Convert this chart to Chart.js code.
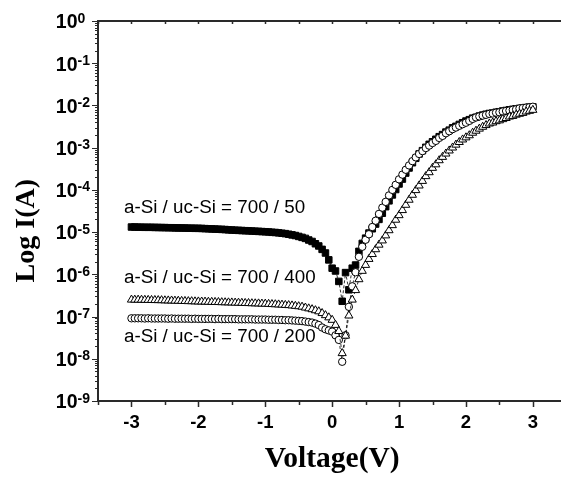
<!DOCTYPE html>
<html><head><meta charset="utf-8">
<script src="https://cdn.jsdelivr.net/npm/chart.js@4.4.1/dist/chart.umd.min.js"></script>
<style>
html,body{margin:0;padding:0;background:#fff;overflow:hidden;width:561px;height:478px}
#wrap{position:absolute;left:0;top:0;width:572px;height:478px}
</style>
</head><body><div id="wrap"><canvas id="c" width="572" height="478"></canvas></div>
<script>
const voltage = [-3,-2.95,-2.9,-2.85,-2.8,-2.75,-2.7,-2.65,-2.6,-2.55,-2.5,-2.45,-2.4,-2.35,-2.3,-2.25,-2.2,-2.15,-2.1,-2.05,-2,-1.95,-1.9,-1.85,-1.8,-1.75,-1.7,-1.65,-1.6,-1.55,-1.5,-1.45,-1.4,-1.35,-1.3,-1.25,-1.2,-1.15,-1.1,-1.05,-1,-0.95,-0.9,-0.85,-0.8,-0.75,-0.7,-0.65,-0.6,-0.55,-0.5,-0.45,-0.4,-0.35,-0.3,-0.25,-0.2,-0.15,-0.1,-0.05,0,0.05,0.1,0.15,0.2,0.25,0.3,0.35,0.4,0.45,0.5,0.55,0.6,0.65,0.7,0.75,0.8,0.85,0.9,0.95,1,1.05,1.1,1.15,1.2,1.25,1.3,1.35,1.4,1.45,1.5,1.55,1.6,1.65,1.7,1.75,1.8,1.85,1.9,1.95,2,2.05,2.1,2.15,2.2,2.25,2.3,2.35,2.4,2.45,2.5,2.55,2.6,2.65,2.7,2.75,2.8,2.85,2.9,2.95,3];

// a-Si / uc-Si = 700 / 50  (filled squares)
const current50 = [
1.32e-5,1.32e-5,1.31e-5,1.31e-5,1.30e-5,1.30e-5,1.30e-5,1.29e-5,1.29e-5,1.28e-5,
1.28e-5,1.27e-5,1.27e-5,1.26e-5,1.26e-5,1.25e-5,1.25e-5,1.24e-5,1.24e-5,1.23e-5,
1.23e-5,1.22e-5,1.21e-5,1.20e-5,1.19e-5,1.18e-5,1.17e-5,1.16e-5,1.15e-5,1.13e-5,
1.12e-5,1.11e-5,1.10e-5,1.09e-5,1.08e-5,1.07e-5,1.06e-5,1.05e-5,1.04e-5,1.03e-5,
1.02e-5,1.01e-5,9.9e-6,9.8e-6,9.6e-6,9.4e-6,9.2e-6,8.9e-6,8.6e-6,8.3e-6,
7.9e-6,7.5e-6,7.1e-6,6.5e-6,6.0e-6,5.3e-6,4.7e-6,3.9e-6,3.2e-6,2.2e-6,
1.4e-6,
1.2e-6,6.8e-7,2.3e-7,1.1e-6,4.3e-7,1.4e-6,1.66e-6,3.5e-6,5.4e-6,7.2e-6,
9.5e-6,1.2e-5,1.55e-5,2.0e-5,2.8e-5,4.0e-5,5.5e-5,7.6e-5,1.02e-4,1.38e-4,
1.8e-4,2.5e-4,3.3e-4,4.4e-4,5.6e-4,7.1e-4,8.5e-4,1.02e-3,1.2e-3,1.38e-3,
1.58e-3,1.82e-3,2.04e-3,2.34e-3,2.6e-3,2.95e-3,3.2e-3,3.55e-3,3.9e-3,4.27e-3,
4.6e-3,5.0e-3,5.25e-3,5.6e-3,5.9e-3,6.2e-3,6.45e-3,6.6e-3,6.9e-3,7.1e-3,
7.4e-3,7.6e-3,7.9e-3,8.1e-3,8.3e-3,8.5e-3,8.7e-3,8.9e-3,9.1e-3,9.3e-3];

// a-Si / uc-Si = 700 / 200  (open circles)
const current200 = [
9.1e-8,9.1e-8,9.1e-8,9.1e-8,9.0e-8,9.1e-8,9.0e-8,9.0e-8,9.0e-8,9.0e-8,
9.0e-8,8.9e-8,9.0e-8,8.9e-8,8.9e-8,8.9e-8,8.9e-8,8.9e-8,8.8e-8,8.9e-8,
8.8e-8,8.8e-8,8.8e-8,8.8e-8,8.8e-8,8.7e-8,8.8e-8,8.7e-8,8.7e-8,8.7e-8,
8.7e-8,8.7e-8,8.6e-8,8.6e-8,8.6e-8,8.6e-8,8.6e-8,8.5e-8,8.5e-8,8.5e-8,
8.5e-8,8.4e-8,8.4e-8,8.4e-8,8.3e-8,8.3e-8,8.2e-8,8.2e-8,8.1e-8,8.0e-8,
7.9e-8,7.8e-8,7.6e-8,7.4e-8,7.2e-8,6.8e-8,6.3e-8,5.5e-8,5.0e-8,4.7e-8,
4.4e-8,
3.6e-8,2.8e-8,8.5e-9,3.6e-8,1.7e-7,5.2e-7,1.12e-6,2.6e-6,4.5e-6,6.6e-6,
8.9e-6,1.32e-5,1.86e-5,2.7e-5,3.8e-5,5.2e-5,7.4e-5,1.0e-4,1.32e-4,1.78e-4,
2.3e-4,3.0e-4,3.8e-4,4.8e-4,5.9e-4,7.1e-4,8.3e-4,9.8e-4,1.12e-3,1.29e-3,
1.45e-3,1.7e-3,1.9e-3,2.2e-3,2.45e-3,2.75e-3,3.0e-3,3.3e-3,3.6e-3,3.9e-3,
4.3e-3,4.8e-3,5.2e-3,5.5e-3,5.75e-3,6.0e-3,6.3e-3,6.45e-3,6.75e-3,6.9e-3,
7.2e-3,7.4e-3,7.6e-3,7.9e-3,8.1e-3,8.5e-3,8.7e-3,8.9e-3,9.1e-3,9.3e-3];

// a-Si / uc-Si = 700 / 400  (open triangles)
const current400 = [
2.50e-7,2.49e-7,2.49e-7,2.48e-7,2.47e-7,2.46e-7,2.45e-7,2.44e-7,2.43e-7,2.42e-7,
2.40e-7,2.39e-7,2.38e-7,2.36e-7,2.35e-7,2.33e-7,2.32e-7,2.30e-7,2.29e-7,2.27e-7,
2.26e-7,2.25e-7,2.24e-7,2.22e-7,2.21e-7,2.20e-7,2.19e-7,2.17e-7,2.16e-7,2.15e-7,
2.14e-7,2.12e-7,2.11e-7,2.10e-7,2.08e-7,2.07e-7,2.05e-7,2.04e-7,2.03e-7,2.01e-7,
2.00e-7,1.98e-7,1.96e-7,1.94e-7,1.92e-7,1.90e-7,1.87e-7,1.85e-7,1.82e-7,1.78e-7,
1.74e-7,1.70e-7,1.62e-7,1.55e-7,1.48e-7,1.40e-7,1.32e-7,1.20e-7,1.07e-7,9.5e-8,
8.3e-8,
6.3e-8,4.5e-8,1.35e-8,3.5e-8,1.05e-7,2.5e-7,4.2e-7,7.6e-7,1.2e-6,1.66e-6,
2.3e-6,3.0e-6,3.9e-6,5.0e-6,6.3e-6,8.3e-6,1.1e-5,1.45e-5,1.95e-5,2.5e-5,
3.3e-5,4.4e-5,5.8e-5,7.6e-5,9.8e-5,1.26e-4,1.62e-4,2.1e-4,2.6e-4,3.3e-4,
4.0e-4,5.0e-4,6.0e-4,7.2e-4,8.5e-4,1.0e-3,1.17e-3,1.35e-3,1.55e-3,1.74e-3,
1.95e-3,2.24e-3,2.5e-3,2.8e-3,3.1e-3,3.4e-3,3.7e-3,3.9e-3,4.2e-3,4.4e-3,
4.7e-3,5.0e-3,5.4e-3,5.6e-3,6.0e-3,6.3e-3,6.6e-3,7.1e-3,7.4e-3,7.8e-3];

const seriesNames = ['a-Si / uc-Si = 700 / 50', 'a-Si / uc-Si = 700 / 400', 'a-Si / uc-Si = 700 / 200'];
const xTickValues = [-3,-2,-1,0,1,2,3];
const xTickLabels = ['-3','-2','-1','0','1','2','3'];
const yTickValues = [1e-9,1e-8,1e-7,1e-6,1e-5,1e-4,1e-3,1e-2,1e-1,1];
const yTickBase = '10';
const yTickExponents = ['-9','-8','-7','-6','-5','-4','-3','-2','-1','0'];
const xTitle = 'Voltage(V)';
const yTitle = 'Log I(A)';

const toPoints = arr => voltage.map((v, i) => ({x: v, y: arr[i]}));

const frame = {
  id: 'frame',
  afterDatasetsDraw(chart) {
    const {ctx, chartArea: {left, right, top, bottom}, scales: {x, y}} = chart;
    ctx.save();
    ctx.strokeStyle = '#2a2a2a';
    ctx.lineWidth = 2;
    ctx.beginPath();
    ctx.moveTo(left, top); ctx.lineTo(left, bottom + 1);
    ctx.moveTo(left - 1, bottom); ctx.lineTo(right, bottom);
    ctx.moveTo(left - 1, top); ctx.lineTo(right, top);
    ctx.moveTo(right, top); ctx.lineTo(right, bottom);
    ctx.stroke();
    ctx.lineWidth = 1.5;
    ctx.beginPath();
    for (let k = -7; k <= 7; k++) {
      const px = Math.round(x.getPixelForValue(k / 2)) + 0.5;
      const major = k % 2 === 0;
      ctx.moveTo(px, bottom); ctx.lineTo(px, bottom + (major ? 6 : 4));
      ctx.moveTo(px, top); ctx.lineTo(px, top + 3);
    }
    ctx.stroke();
    ctx.lineWidth = 1;
    ctx.beginPath();
    for (let e = -9; e <= 0; e++) {
      const py = Math.round(y.getPixelForValue(Math.pow(10, e))) + 0.5;
      ctx.moveTo(left, py); ctx.lineTo(left - 6, py);
      if (e < 0) {
        for (let m = 2; m <= 9; m++) {
          const pm = Math.round(y.getPixelForValue(m * Math.pow(10, e))) + 0.5;
          ctx.moveTo(left, pm); ctx.lineTo(left - 3, pm);
        }
      }
    }
    ctx.stroke();
    ctx.restore();
  },
  afterDraw(chart) {
    const {ctx, scales: {y}} = chart;
    ctx.save();
    ctx.fillStyle = '#000';
    // y tick labels: 10 with raised exponent
    yTickValues.forEach((v, i) => {
      const py = y.getPixelForValue(v);
      ctx.font = 'bold 19.5px "Liberation Sans", Arial, sans-serif';
      ctx.textAlign = 'right';
      ctx.textBaseline = 'middle';
      ctx.fillText(yTickBase, 77.5, py + 2);
      ctx.font = 'bold 14px "Liberation Sans", Arial, sans-serif';
      ctx.textAlign = 'left';
      ctx.textBaseline = 'alphabetic';
      ctx.fillText(yTickExponents[i], 77.5, py + 1.5);
    });
    ctx.font = '18.8px "Liberation Sans", Arial, sans-serif';
    ctx.textAlign = 'left';
    ctx.textBaseline = 'alphabetic';
    ctx.fillText(seriesNames[0], 124, 212.7);
    ctx.fillText(seriesNames[1], 124, 283);
    ctx.fillText(seriesNames[2], 124, 341.7);
    ctx.translate(27, 230.7);
    ctx.rotate(-Math.PI / 2);
    ctx.textAlign = 'center';
    ctx.textBaseline = 'middle';
    ctx.font = 'bold 28px "Liberation Serif", "Times New Roman", serif';
    ctx.fillText(yTitle, 0, 0);
    ctx.restore();
  }
};

new Chart(document.getElementById('c'), {
  type: 'scatter',
  data: {
    datasets: [
      {label: seriesNames[1], data: toPoints(current400), showLine: true,
       pointStyle: 'triangle', pointRadius: 4.7, pointBackgroundColor: '#fff', pointBorderColor: '#000', pointBorderWidth: 1,
       borderColor: '#000', borderWidth: 0.8, borderDash: [3, 2]},
      {label: seriesNames[2], data: toPoints(current200), showLine: true,
       pointStyle: 'circle', pointRadius: 3.7, pointBackgroundColor: '#fff', pointBorderColor: '#000', pointBorderWidth: 1,
       borderColor: '#000', borderWidth: 0.8, borderDash: [3, 2]},
      {label: seriesNames[0], data: toPoints(current50), showLine: true,
       pointStyle: 'rect', pointRadius: 4.6, pointBackgroundColor: '#000', pointBorderColor: '#000', pointBorderWidth: 1,
       borderColor: '#000', borderWidth: 0.8, borderDash: [3, 2]}
    ]
  },
  options: {
    responsive: false,
    animation: false,
    devicePixelRatio: 1,
    layout: {padding: {top: 21, left: 0, right: 2, bottom: 0}},
    plugins: {legend: {display: false}, tooltip: {enabled: false}},
    scales: {
      x: {
        type: 'linear', min: -3.5, max: 3.5,
        afterBuildTicks: s => { s.ticks = xTickValues.map(v => ({value: v})); },
        afterFit: s => { s.height = 77; },
        grid: {display: false, drawTicks: false},
        border: {display: false},
        ticks: {
          autoSkip: false, maxRotation: 0, padding: 11, color: '#000',
          font: {family: '"Liberation Sans", Arial, sans-serif', weight: 'bold', size: 18.5},
          callback: (v, i) => xTickLabels[i]
        },
        title: {display: true, text: xTitle, color: '#000', padding: {top: 0, bottom: 1},
          font: {family: '"Liberation Serif", "Times New Roman", serif', weight: 'bold', size: 29.5}}
      },
      y: {
        type: 'logarithmic', min: 1e-9, max: 1,
        afterBuildTicks: s => { s.ticks = yTickValues.map(v => ({value: v})); },
        afterFit: s => { s.width = 98; },
        grid: {display: false, drawTicks: false},
        border: {display: false},
        ticks: {display: false}
      }
    }
  },
  plugins: [frame]
});
</script>
</body></html>
